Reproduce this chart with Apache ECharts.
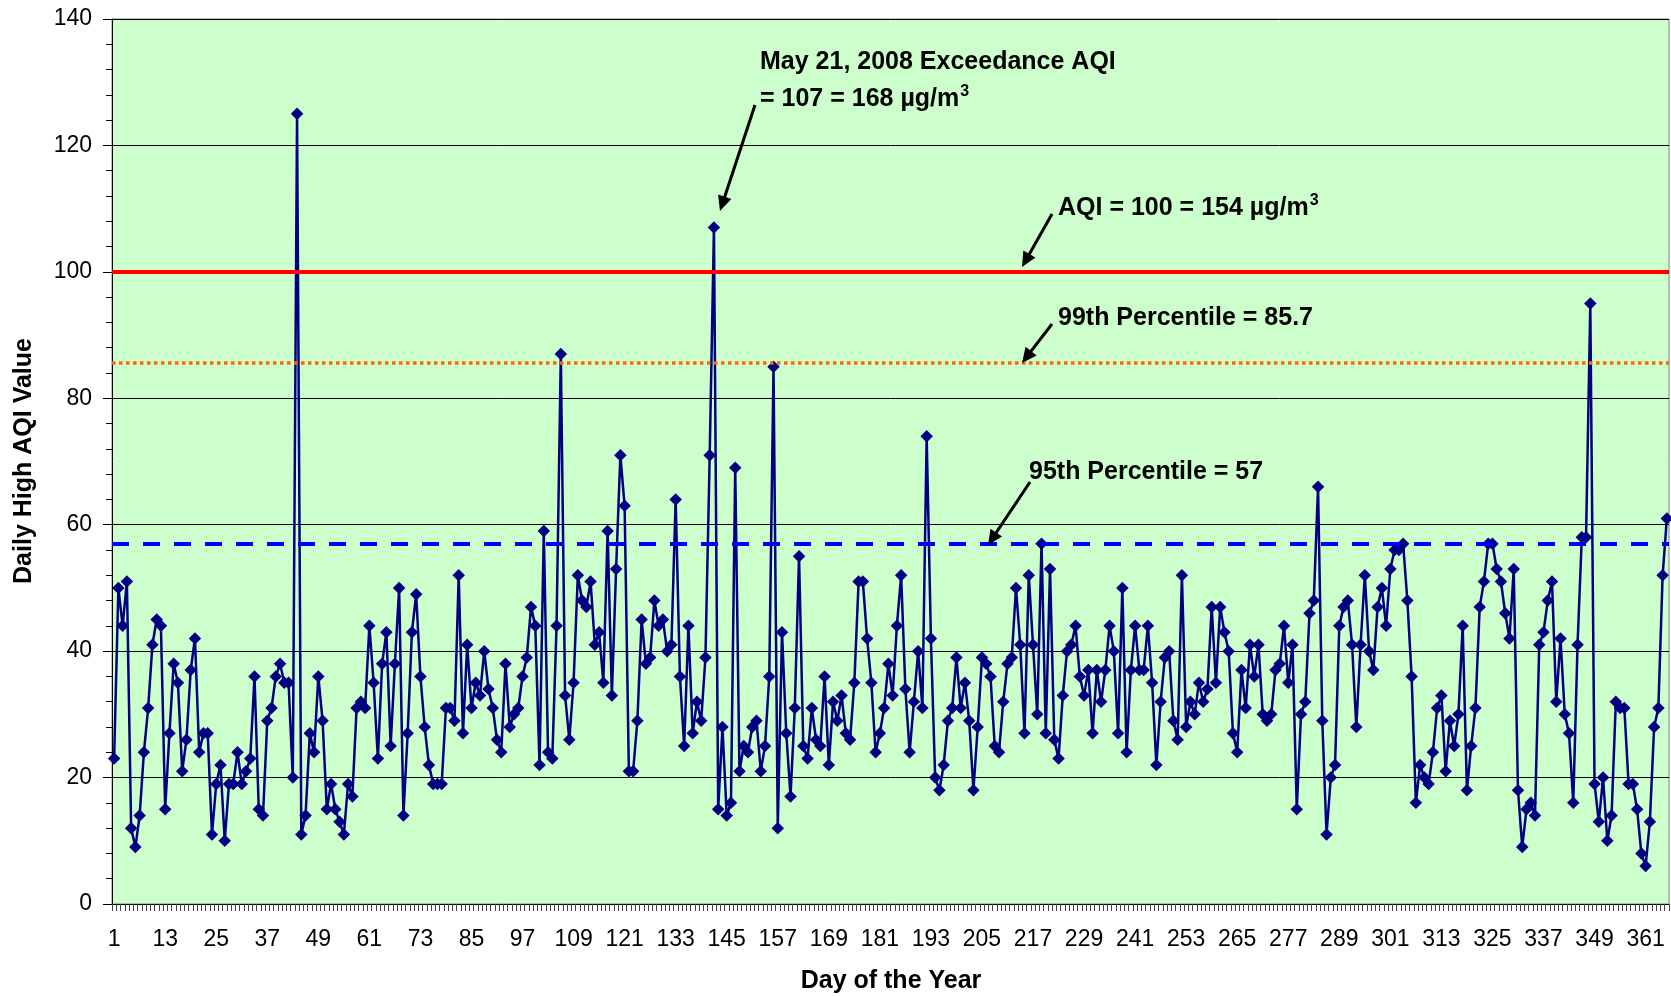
<!DOCTYPE html>
<html>
<head>
<meta charset="utf-8">
<script src="https://cdn.jsdelivr.net/npm/echarts@6/dist/echarts.min.js"></script>
<style>
  html, body { margin: 0; padding: 0; background: #ffffff; }
  #chart { width: 1671px; height: 996px; }
</style>
</head>
<body>
<div id="chart"></div>
<script>
// Day-of-year categories (2008 is a leap year)
const dayCount = 366;
const days = [];
for (let d = 1; d <= dayCount; d++) days.push(String(d));

// Daily high AQI value for each day of 2008
const dailyHighAqi = [
  23, 50, 44, 51, 12, 9, 14, 24, 31, 41,
  45, 44, 15, 27, 38, 35, 21, 26, 37, 42,
  24, 27, 27, 11, 19, 22, 10, 19, 19, 24,
  19, 21, 23, 36, 15, 14, 29, 31, 36, 38,
  35, 35, 20, 125, 11, 14, 27, 24, 36, 29,
  15, 19, 15, 13, 11, 19, 17, 31, 32, 31,
  44, 35, 23, 38, 43, 25, 38, 50, 14, 27,
  43, 49, 36, 28, 22, 19, 19, 19, 31, 31,
  29, 52, 27, 41, 31, 35, 33, 40, 34, 31,
  26, 24, 38, 28, 30, 31, 36, 39, 47, 44,
  22, 59, 24, 23, 44, 87, 33, 26, 35, 52,
  48, 47, 51, 41, 43, 35, 59, 33, 53, 71,
  63, 21, 21, 29, 45, 38, 39, 48, 44, 45,
  40, 41, 64, 36, 25, 44, 27, 32, 29, 39,
  71, 107, 15, 28, 14, 16, 69, 21, 25, 24,
  28, 29, 21, 25, 36, 85, 12, 43, 27, 17,
  31, 55, 25, 23, 31, 26, 25, 36, 22, 32,
  29, 33, 27, 26, 35, 51, 51, 42, 35, 24,
  27, 31, 38, 33, 44, 52, 34, 24, 32, 40,
  31, 74, 42, 20, 18, 22, 29, 31, 39, 31,
  35, 29, 18, 28, 39, 38, 36, 25, 24, 32,
  38, 39, 50, 41, 27, 52, 41, 30, 57, 27,
  53, 26, 23, 33, 40, 41, 44, 36, 33, 37,
  27, 37, 32, 37, 44, 40, 27, 50, 24, 37,
  44, 37, 37, 44, 35, 22, 32, 39, 40, 29,
  26, 52, 28, 32, 30, 35, 32, 34, 47, 35,
  47, 43, 40, 27, 24, 37, 31, 41, 36, 41,
  30, 29, 30, 37, 38, 44, 35, 41, 15, 30,
  32, 46, 48, 66, 29, 11, 20, 22, 44, 47,
  48, 41, 28, 41, 52, 40, 37, 47, 50, 44,
  53, 56, 56, 57, 48, 36, 16, 22, 20, 19,
  24, 31, 33, 21, 29, 25, 30, 44, 18, 25,
  31, 47, 51, 57, 57, 53, 51, 46, 42, 53,
  18, 9, 15, 16, 14, 41, 43, 48, 51, 32,
  42, 30, 27, 16, 41, 58, 58, 95, 19, 13,
  20, 10, 14, 32, 31, 31, 19, 19, 15, 8,
  6, 13, 28, 31, 52, 61
];

// Reference levels
const standardAqi = 100;     // AQI = 100 = 154 µg/m3
const percentile99 = 85.7;
const percentile95 = 57;

// Value-axis range
const yMin = 0;
const yMax = 140;
const yStep = 20;

const FONT = "'Liberation Sans', Arial, Helvetica, sans-serif";

const chart = echarts.init(document.getElementById('chart'), null, { renderer: 'canvas' });

// Straight black arrow with a filled head at (x2, y2)
function arrow(x1, y1, x2, y2) {
  const dx = x2 - x1, dy = y2 - y1;
  const len = Math.hypot(dx, dy);
  const ux = dx / len, uy = dy / len;
  const headLen = 15, headHalf = 7;
  const bx = x2 - ux * headLen, by = y2 - uy * headLen;
  return [
    { type: 'line', silent: true, z: 50,
      shape: { x1: x1, y1: y1, x2: bx + ux * 2, y2: by + uy * 2 },
      style: { stroke: '#000000', lineWidth: 3 } },
    { type: 'polygon', silent: true, z: 50,
      shape: { points: [[x2, y2], [bx - uy * headHalf, by + ux * headHalf], [bx + uy * headHalf, by - ux * headHalf]] },
      style: { fill: '#000000' } }
  ];
}

function note(x, y, richText) {
  return {
    type: 'text', silent: true, z: 50, x: x, y: y,
    style: {
      text: richText,
      textAlign: 'left', textVerticalAlign: 'middle',
      rich: {
        m: { fontFamily: FONT, fontSize: 25, fontWeight: 'bold', fill: '#000000', lineHeight: 30 },
        s: { fontFamily: FONT, fontSize: 16, fontWeight: 'bold', fill: '#000000', verticalAlign: 'top', lineHeight: 30, padding: [0, 0, 0, 1] }
      }
    }
  };
}

const graphics = [
  // axis titles
  { type: 'text', silent: true, z: 50, x: 891, y: 981,
    style: { text: 'Day of the Year', fontFamily: FONT, fontSize: 25, fontWeight: 'bold', fill: '#000000', textAlign: 'center', textVerticalAlign: 'middle' } },
  { type: 'text', silent: true, z: 50, x: 24, y: 461, rotation: Math.PI / 2,
    style: { text: 'Daily High AQI Value', fontFamily: FONT, fontSize: 25, fontWeight: 'bold', fill: '#000000', textAlign: 'center', textVerticalAlign: 'middle' } },
  // annotations
  note(760, 62, '{m|May 21, 2008 Exceedance AQI}'),
  note(760, 99, '{m|= 107 = 168 µg/m}{s|3}'),
  note(1058, 208, '{m|AQI = 100 = 154 µg/m}{s|3}'),
  note(1058, 318, '{m|99th Percentile = 85.7}'),
  note(1029, 472, '{m|95th Percentile = 57}')
]
  .concat(arrow(755, 105, 720, 211))
  .concat(arrow(1052, 214, 1022, 267))
  .concat(arrow(1052, 324, 1022, 363))
  .concat(arrow(1030, 482, 988, 545));

const option = {
  animation: false,
  backgroundColor: '#ffffff',
  grid: {
    left: 112, right: 2, top: 19, bottom: 92,
    show: true, backgroundColor: '#CCFFCC', borderColor: '#808080', borderWidth: 1
  },
  xAxis: {
    type: 'category',
    data: days,
    boundaryGap: true,
    axisLine: { lineStyle: { color: '#000000', width: 1 } },
    axisTick: { show: true, interval: 0, length: 7, lineStyle: { color: '#444444', width: 1 } },
    axisLabel: { interval: 11, margin: 24, fontSize: 23, color: '#000000', fontFamily: FONT },
    splitLine: { show: false }
  },
  yAxis: {
    type: 'value',
    min: yMin, max: yMax, interval: yStep,
    axisLine: { show: true, lineStyle: { color: '#000000', width: 1 } },
    axisTick: { show: true, length: 9, lineStyle: { color: '#000000' } },
    minorTick: { show: true, splitNumber: 5, length: 6, lineStyle: { color: '#000000' } },
    axisLabel: { margin: 20, fontSize: 23, color: '#000000', fontFamily: FONT },
    splitLine: { show: true, lineStyle: { color: '#000000', width: 1 } }
  },
  series: [
    {
      // reference levels
      type: 'line', data: [], z: 1, silent: true,
      markLine: {
        silent: true, symbol: ['none', 'none'], animation: false,
        label: { show: false },
        data: [
          { yAxis: standardAqi, lineStyle: { color: '#FF0000', width: 4, type: 'solid' } },
          { yAxis: percentile99, lineStyle: { color: '#FF6600', width: 3.5, type: [3.5, 3.5] } },
          { yAxis: percentile95, lineStyle: { color: '#0000FF', width: 4, type: [17, 14] } }
        ]
      }
    },
    {
      name: 'Daily High AQI',
      type: 'line',
      data: dailyHighAqi,
      z: 3,
      symbol: 'diamond',
      symbolSize: 12.5,
      showAllSymbol: true,
      lineStyle: { color: '#000080', width: 2.5 },
      itemStyle: { color: '#000080' }
    }
  ],
  graphic: graphics
};

chart.setOption(option);
</script>
</body>
</html>
